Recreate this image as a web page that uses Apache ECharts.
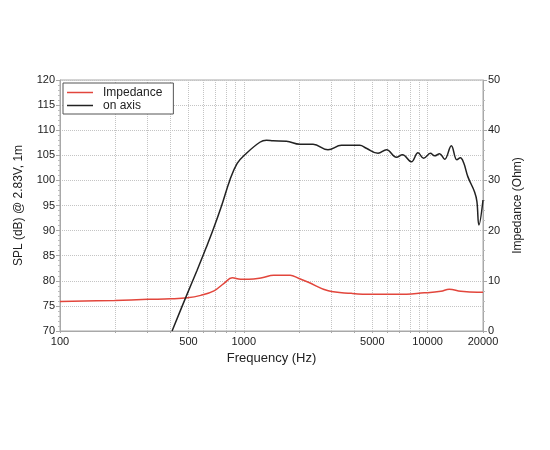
<!DOCTYPE html>
<html>
<head>
<meta charset="utf-8">
<script src="https://cdn.jsdelivr.net/npm/echarts@6/dist/echarts.min.js"></script>
<style>
html,body{margin:0;padding:0;background:#fff;}
#chart{width:550px;height:450px;}
</style>
</head>
<body>
<div id="chart"></div>
<script>
// Frequency grid / labels (Hz)
var gridFreqs = [100,200,300,400,500,600,700,800,900,1000,2000,3000,4000,5000,6000,7000,8000,9000,10000,20000];
var labelFreqs = [100,500,1000,5000,10000,20000];
var splTicks = [70,75,80,85,90,95,100,105,110,115,120];
var impTicks = [0,10,20,30,40,50];

// Impedance (Ohm)
var impFreq = [100,198,300,400,494,583,688,780,865,960,1064,1256,1453,1786,1982,2245,2878,3846,4940,6890,9600,11800,13100,15150,18620,20000];
var impOhm  = [5.9,6.1,6.3,6.4,6.6,7.1,8.0,9.5,10.6,10.3,10.3,10.6,11.1,11.1,10.5,9.7,8.0,7.5,7.3,7.3,7.6,7.9,8.3,7.9,7.7,7.7];

// SPL on axis (dB)
var splFreq = [407,482,557,627,681,756,840,920,1012,1222,1328,1443,1706,2016,2380,2870,3396,4270,4640,5370,5970,6760,7290,8150,8860,9510,10350,10910,11620,12370,13450,14420,15060,15700,16560,18000,18530,19000,20000];
var splDb   = [70,76.6,82.1,86.8,90.2,94.9,100.1,103.4,105.1,107.6,108.0,107.9,107.8,107.2,107.2,106.1,107.0,107.0,106.4,105.4,106.1,104.6,105.1,103.7,105.5,104.4,105.4,104.9,105.3,104.2,106.9,104.1,104.5,103.5,100.7,97.7,95.8,91.1,96.1];

function pairs(xs, ys){ return xs.map(function(x,i){ return [x, ys[i]]; }); }

var font = 'Liberation Sans, Arial, sans-serif';
var chart = echarts.init(document.getElementById('chart'));
chart.setOption({
  animation: false,
  textStyle: {fontFamily: font},
  grid: {left: 60, right: 67, top: 80, bottom: 119, show: true, borderColor: '#a8a8a8', borderWidth: 1, containLabel: false},
  legend: {
    left: 63, top: 83, orient: 'vertical', icon: 'rect', itemWidth: 26, itemHeight: 1.5, itemGap: 0,
    padding: [3, 11, 2, 4], backgroundColor: '#fff', borderColor: '#555', borderWidth: 1,
    textStyle: {fontSize: 12, color: '#222', fontFamily: font, lineHeight: 13, padding: [0, 0, 0, 5]},
    data: ['Impedance', 'on axis']
  },
  xAxis: {
    type: 'log', logBase: 10, min: 100, max: 20000,
    name: 'Frequency (Hz)', nameLocation: 'middle', nameGap: 20,
    nameTextStyle: {fontSize: 13, color: '#222'},
    axisLine: {lineStyle: {color: '#a8a8a8'}},
    axisTick: {show: true, length: 2, customValues: gridFreqs, lineStyle: {color: '#a8a8a8'}},
    axisLabel: {customValues: labelFreqs, fontSize: 11, color: '#222', margin: 5,
      formatter: function(v){ return String(Math.round(v)); }},
    splitLine: {show: true, lineStyle: {type: 'dotted', color: '#c4c4c4'}},
    minorTick: {show: false}, minorSplitLine: {show: false}
  },
  yAxis: [{
    type: 'value', min: 70, max: 120, interval: 5,
    name: 'SPL (dB) @ 2.83V, 1m', nameLocation: 'middle', nameGap: 35,
    nameTextStyle: {fontSize: 12, color: '#222'},
    axisLine: {show: true, lineStyle: {color: '#a8a8a8'}},
    axisTick: {show: true, length: 4, lineStyle: {color: '#a8a8a8'}},
    minorTick: {show: true, splitNumber: 5, length: 2, lineStyle: {color: '#bbb'}},
    axisLabel: {fontSize: 11, color: '#222', margin: 5},
    splitLine: {show: true, lineStyle: {type: 'dotted', color: '#c4c4c4'}}
  }, {
    type: 'value', min: 0, max: 50, interval: 10, position: 'right',
    name: 'Impedance (Ohm)', nameLocation: 'middle', nameGap: 29,
    nameTextStyle: {fontSize: 12, color: '#222'},
    axisLine: {show: true, lineStyle: {color: '#a8a8a8'}},
    axisTick: {show: true, length: 4, lineStyle: {color: '#a8a8a8'}},
    minorTick: {show: true, splitNumber: 5, length: 2, lineStyle: {color: '#bbb'}},
    axisLabel: {fontSize: 11, color: '#222', margin: 5},
    splitLine: {show: false}
  }],
  series: [{
    name: 'Impedance', type: 'line', yAxisIndex: 1, symbol: 'none', smooth: 0.4,
    lineStyle: {color: '#e2463c', width: 1.5}, itemStyle: {color: '#e2463c'},
    data: pairs(impFreq, impOhm)
  }, {
    name: 'on axis', type: 'line', yAxisIndex: 0, symbol: 'none', smooth: 0.4,
    lineStyle: {color: '#222', width: 1.5}, itemStyle: {color: '#222'},
    data: pairs(splFreq, splDb)
  }]
});
</script>
</body>
</html>
